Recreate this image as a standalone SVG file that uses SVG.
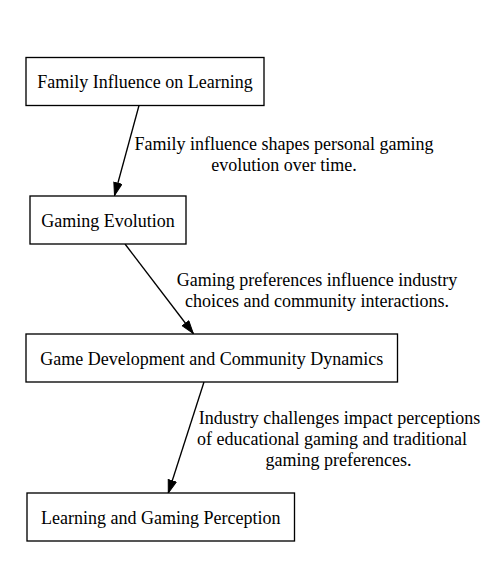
<svg xmlns="http://www.w3.org/2000/svg" width="490" height="568" viewBox="0 0 490 568">
<style>
  .node rect { fill: #ffffff; stroke: #000000; stroke-width: 1.33; }
  text { font-family: "Liberation Serif", "Times New Roman", serif; font-size: 18px; fill: #000000; text-anchor: middle; }
  .edge line { stroke: #000000; stroke-width: 1.33; fill: none; marker-end: url(#arrow); }
</style>
<defs>
  <marker id="arrow" markerUnits="userSpaceOnUse" viewBox="0 0 14 10" refX="13.3" refY="4.67" markerWidth="14" markerHeight="10" orient="auto">
    <path d="M0.5,0.5 L13.3,4.67 L0.5,8.84 Z" fill="#000000" stroke="#000000" stroke-width="1"/>
  </marker>
</defs>
<rect width="490" height="568" fill="#ffffff"/>
<g id="connectors">
  <g class="edge" id="e1">
    <line x1="139" y1="105.5" x2="114.5" y2="195.5"/>
    <text x="284" y="150">Family influence shapes personal gaming</text>
    <text x="284" y="171">evolution over time.</text>
  </g>
  <g class="edge" id="e2">
    <line x1="125" y1="244" x2="193.3" y2="333.5"/>
    <text x="317" y="286">Gaming preferences influence industry</text>
    <text x="317" y="307">choices and community interactions.</text>
  </g>
  <g class="edge" id="e3">
    <line x1="204" y1="382" x2="168.3" y2="493"/>
    <text x="339.5" y="424">Industry challenges impact perceptions</text>
    <text x="332" y="445">of educational gaming and traditional</text>
    <text x="338.5" y="465.5">gaming preferences.</text>
  </g>
</g>
<g class="node" id="family">
  <rect x="26" y="57.5" width="238" height="48"/>
  <text x="145" y="88">Family Influence on Learning</text>
</g>
<g class="node" id="gaming">
  <rect x="30" y="196" width="156" height="48"/>
  <text x="108" y="226.5">Gaming Evolution</text>
</g>
<g class="node" id="development">
  <rect x="26" y="334" width="371.5" height="48"/>
  <text x="211.8" y="364.5">Game Development and Community Dynamics</text>
</g>
<g class="node" id="perception">
  <rect x="27" y="493" width="267.5" height="48"/>
  <text x="160.7" y="523.5">Learning and Gaming Perception</text>
</g>
</svg>
